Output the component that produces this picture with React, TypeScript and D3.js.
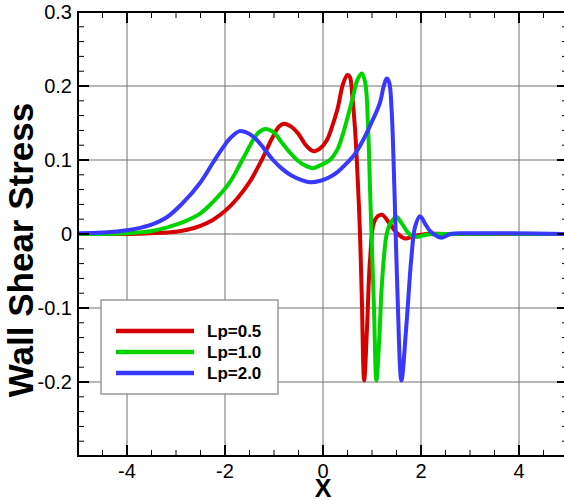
import React from "react";
import * as d3 from "d3";

// Wall shear stress profiles for three values of Lp
const seriesNames = ["Lp=0.5", "Lp=1.0", "Lp=2.0"];
const seriesColors = ["#d60000", "#00d400", "#3838ff"];

const xLp05 = [-5, -4, -3.5, -3, -2.75, -2.5, -2.25, -2.0, -1.75, -1.5, -1.25, -1.05, -0.9, -0.8, -0.65, -0.5, -0.35, -0.2, -0.05, 0.08, 0.2, 0.3, 0.41, 0.5, 0.55, 0.6, 0.65, 0.69, 0.75, 0.79, 0.84, 0.9, 0.96, 1.06, 1.2, 1.37, 1.51, 1.67, 1.85, 2.1, 2.5, 5];
const yLp05 = [0, 0, 0.001, 0.003, 0.006, 0.011, 0.019, 0.031, 0.048, 0.07, 0.1, 0.128, 0.145, 0.149, 0.145, 0.135, 0.12, 0.112, 0.116, 0.127, 0.148, 0.17, 0.203, 0.215, 0.212, 0.185, 0.145, 0.1, 0.01, -0.08, -0.198, -0.125, -0.035, 0.019, 0.026, 0.013, 0.001, -0.006, -0.003, 0, 0, 0];

const xLp10 = [-5, -4, -3.5, -3.18, -2.86, -2.5, -2.25, -2.04, -1.9, -1.76, -1.55, -1.4, -1.3, -1.18, -1.0, -0.88, -0.7, -0.53, -0.35, -0.2, -0.05, 0.14, 0.3, 0.41, 0.52, 0.61, 0.7, 0.79, 0.86, 0.92, 0.96, 1.0, 1.04, 1.09, 1.15, 1.2, 1.3, 1.38, 1.5, 1.6, 1.72, 1.8, 1.93, 2.1, 2.5, 5];
const yLp10 = [0, 0.001, 0.004, 0.009, 0.016, 0.028, 0.043, 0.058, 0.07, 0.086, 0.112, 0.13, 0.138, 0.142, 0.137, 0.127, 0.112, 0.1, 0.092, 0.089, 0.093, 0.1, 0.115, 0.136, 0.162, 0.185, 0.208, 0.217, 0.205, 0.145, 0.06, -0.02, -0.1, -0.198, -0.14, -0.07, 0, 0.015, 0.023, 0.015, 0.003, -0.002, -0.004, -0.001, 0, 0];

const xLp20 = [-5, -4.5, -4, -3.53, -3.18, -2.86, -2.51, -2.24, -2.04, -1.9, -1.7, -1.5, -1.35, -1.2, -1.02, -0.85, -0.67, -0.45, -0.27, -0.05, 0.14, 0.3, 0.49, 0.65, 0.82, 1.0, 1.16, 1.24, 1.3, 1.35, 1.4, 1.46, 1.52, 1.6, 1.7, 1.8, 1.88, 1.98, 2.1, 2.2, 2.42, 2.6, 2.9, 5];
const yLp20 = [0.001, 0.002, 0.005, 0.012, 0.023, 0.042, 0.069, 0.097, 0.117, 0.129, 0.139, 0.135, 0.127, 0.115, 0.1, 0.089, 0.08, 0.073, 0.07, 0.072, 0.077, 0.084, 0.096, 0.108, 0.127, 0.152, 0.177, 0.2, 0.21, 0.205, 0.168, 0.055, -0.08, -0.198, -0.125, -0.035, 0.01, 0.024, 0.012, 0.003, -0.005, 0, 0.001, 0];

const xTicks = [-4, -2, 0, 2, 4];
const yTicks = [-0.2, -0.1, 0, 0.1, 0.2, 0.3];
const xGrid = [-4, -2, 0, 2, 4];
const yGrid = [-0.2, -0.1, 0, 0.1, 0.2];

const W = 564;
const H = 501;
const left = 78;
const right = 568;
const top = 12;
const bottom = 456;

export default function App() {
  const x = d3.scaleLinear().domain([-5, 5]).range([left, right]);
  const y = d3.scaleLinear().domain([-0.3, 0.3]).range([bottom, top]);

  const series = [
    { xs: xLp05, ys: yLp05 },
    { xs: xLp10, ys: yLp10 },
    { xs: xLp20, ys: yLp20 },
  ];

  const line = d3
    .line<[number, number]>()
    .x((d) => x(d[0]))
    .y((d) => y(d[1]))
    .curve(d3.curveCatmullRom.alpha(0.5));

  const xMinor = d3.range(-5, 5.001, 0.5);
  const yMinor = d3.range(-0.3, 0.3001, 0.02);
  const isMajorX = (v: number) => Math.abs(v / 2 - Math.round(v / 2)) < 1e-6;
  const isMajorY = (v: number) => Math.abs(v * 10 - Math.round(v * 10)) < 1e-6;

  const font = "Liberation Sans, Arial, Helvetica, sans-serif";

  return (
    <svg
      width={W}
      height={H}
      style={{ position: "absolute", left: 0, top: 0, background: "#fff" }}
      fontFamily={font}
    >
      <defs>
        <clipPath id="plot-area">
          <rect x={left} y={top} width={right - left} height={bottom - top} />
        </clipPath>
      </defs>

      {/* grid */}
      <g stroke="#707070" strokeWidth={1}>
        {xGrid.map((v) => (
          <line key={"gx" + v} x1={x(v)} x2={x(v)} y1={top} y2={bottom} />
        ))}
        {yGrid.map((v) => (
          <line key={"gy" + v} x1={left} x2={right} y1={y(v)} y2={y(v)} />
        ))}
      </g>

      {/* curves */}
      <g clipPath="url(#plot-area)" fill="none" strokeWidth={4} strokeLinejoin="round" strokeLinecap="round">
        {series.map((s, i) => (
          <path
            key={seriesNames[i]}
            d={line(s.xs.map((v, j) => [v, s.ys[j]] as [number, number])) || ""}
            stroke={seriesColors[i]}
          />
        ))}
      </g>

      {/* ticks on all four sides, pointing inward */}
      <g stroke="#000">
        {xMinor.map((v) => {
          const major = isMajorX(v);
          const len = major ? 11 : 6;
          const sw = major ? 2 : 1;
          return (
            <g key={"tx" + v}>
              <line x1={x(v)} x2={x(v)} y1={bottom} y2={bottom - len} strokeWidth={sw} />
              <line x1={x(v)} x2={x(v)} y1={top} y2={top + len} strokeWidth={sw} />
            </g>
          );
        })}
        {yMinor.map((v) => {
          const major = isMajorY(v);
          const len = major ? 11 : 6;
          const sw = major ? 2 : 1;
          return (
            <g key={"ty" + v.toFixed(2)}>
              <line x1={left} x2={left + len} y1={y(v)} y2={y(v)} strokeWidth={sw} />
              <line x1={right} x2={right - len} y1={y(v)} y2={y(v)} strokeWidth={sw} />
            </g>
          );
        })}
      </g>

      {/* frame */}
      <rect
        x={left}
        y={top}
        width={right - left}
        height={bottom - top}
        fill="none"
        stroke="#000"
        strokeWidth={2}
      />

      {/* tick labels */}
      <g fontSize={20} fill="#000">
        {xTicks.map((v) => (
          <text key={"lx" + v} x={x(v)} y={478} textAnchor="middle">
            {v}
          </text>
        ))}
        {yTicks.map((v) => (
          <text key={"ly" + v} x={72} y={y(v)} dy="0.35em" textAnchor="end">
            {v}
          </text>
        ))}
      </g>

      {/* axis titles */}
      <text x={x(0)} y={497} textAnchor="middle" fontSize={25} fontWeight="bold">
        X
      </text>
      <text
        transform={`translate(33,250) rotate(-90)`}
        textAnchor="middle"
        fontSize={35}
        fontWeight="bold"
      >
        Wall Shear Stress
      </text>

      {/* legend */}
      <g>
        <rect x={101} y={300} width={177} height={94} fill="#fff" stroke="#999" strokeWidth={1.5} />
        {seriesNames.map((name, i) => (
          <g key={"lg" + name}>
            <line
              x1={116}
              x2={194}
              y1={331 + i * 21}
              y2={331 + i * 21}
              stroke={seriesColors[i]}
              strokeWidth={4.5}
            />
            <text x={207} y={331 + i * 21} dy="0.36em" fontSize={17} fontWeight="bold">
              {name}
            </text>
          </g>
        ))}
      </g>
    </svg>
  );
}
